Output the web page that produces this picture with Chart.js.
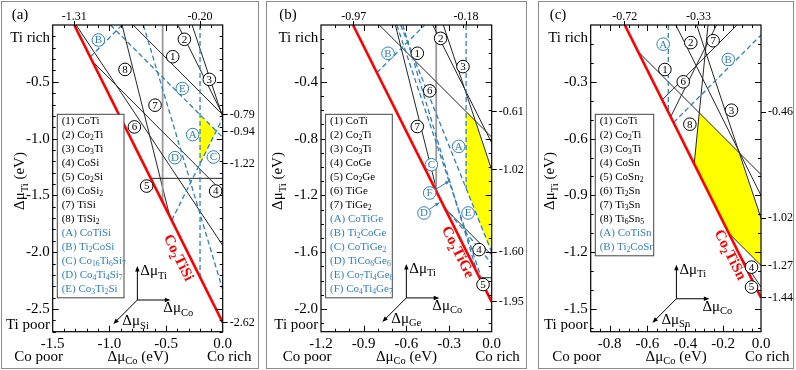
<!DOCTYPE html>
<html>
<head>
<meta charset="utf-8">
<title>Co2TiX chemical potential stability</title>
<script src="https://cdn.jsdelivr.net/npm/chart.js@4.4.1/dist/chart.umd.min.js"></script>
<style>
  body { margin: 0; background: #fff; }
  #wrap { position: relative; width: 796px; height: 370px; overflow: hidden; }
  #wrap canvas { position: absolute; top: 0; }
  .frame { position: absolute; top: 1px; height: 368px; border: 1.5px solid #8c8c8c; box-sizing: border-box; }
</style>
</head>
<body>
<div id="wrap">
  <div class="frame" style="left:1px;width:258px"></div>
  <div class="frame" style="left:266px;width:261px"></div>
  <div class="frame" style="left:538px;width:256px"></div>
  <canvas id="pa" width="264" height="370" style="left:0px"></canvas>
  <canvas id="pb" width="270" height="370" style="left:264px"></canvas>
  <canvas id="pc" width="262" height="370" style="left:534px"></canvas>
</div>
<script>
const SERIF = '"Liberation Serif", "Times New Roman", serif';
const BLUE = "#2f7fbf";
const INK = "#000";

// ─── Panel (a): Co–Ti–Si ──────────────────────────────────────────
const aXTicks = [-1.5, -1.0, -0.5, 0.0];
const aYTicks = [-0.5, -1.0, -1.5, -2.0, -2.5];
const aTopMarks = [-1.31, -0.20];
const aRightMarks = [-0.79, -0.94, -1.22, -2.62];
const aHost = [[-1.31, 0], [0, -2.62]];                       // Co2TiSi
const aStable = [[-0.20, -0.79], [-0.06, -0.94], [-0.20, -1.22]];
// label, x1, y1, x2, y2
const aBinary = [
  ["1", -0.79, 0, 0, -0.79],
  ["2", -0.395, 0, 0, -0.79],
  ["3", -0.27, 0, 0, -0.81],
  ["4", -1.15, -0.32, 0, -1.47],
  ["5", -0.635, -1.35, 0, -1.35],
  ["6", -1.293, 0, 0, -1.94],
  ["7", -0.53, 0, -0.53, -1.56],
  ["8", -0.888, 0, -0.466, -1.688],
];
const aTernary = [
  ["A", -0.20, 0, -0.20, -2.22],
  ["B", -1.169, -0.281, -0.888, 0],
  ["C", -0.45, -1.72, 0, -0.82],
  ["D", -0.70, 0, 0, -2.33],
  ["E", -0.99, 0, 0, -0.99],
];
const aTags = [
  ["1", -0.441, -0.279], ["2", -0.338, -0.126], ["3", -0.118, -0.479], ["4", -0.062, -1.462],
  ["5", -0.671, -1.418], ["6", -0.779, -0.897], ["7", -0.597, -0.706], ["8", -0.862, -0.391],
  ["A", -0.265, -0.965], ["B", -1.097, -0.132], ["C", -0.082, -1.162], ["D", -0.421, -1.168],
  ["E", -0.356, -0.559],
];
const aLegend = ["(1) CoTi", "(2) Co_2Ti", "(3) Co_3Ti", "(4) CoSi", "(5) Co_2Si", "(6) CoSi_2",
  "(7) TiSi", "(8) TiSi_2", "(A) CoTiSi", "(B) Ti_2CoSi", "(C) Co_{16}Ti_6Si_7",
  "(D) Co_4Ti_4Si_7", "(E) Co_3Ti_2Si"];

// ─── Panel (b): Co–Ti–Ge ──────────────────────────────────────────
const bXTicks = [-1.2, -0.9, -0.6, -0.3, 0.0];
const bYTicks = [-0.4, -0.8, -1.2, -1.6, -2.0];
const bTopMarks = [-0.97, -0.18];
const bRightMarks = [-0.61, -1.02, -1.60, -1.95];
const bHost = [[-0.975, 0], [0, -1.95]];                      // Co2TiGe
const bStable = [[-0.18, -0.61], [-0.12, -0.67], [0, -1.02], [0, -1.60], [-0.18, -1.15]];
const bBinary = [
  ["1", -0.79, 0, 0, -0.79],
  ["2", -0.415, 0, 0, -0.83],
  ["3", -0.34, 0, 0, -1.02],
  ["4", -0.33, -1.29, 0, -1.62],
  ["5", -0.085, -1.78, 0, -1.78],
  ["6", -0.39, 0, -0.39, -1.17],
  ["7", -0.677, 0, -0.385, -1.17],
];
const bTernary = [
  ["A", -0.18, 0, -0.18, -1.15],
  ["B", -0.807, -0.336, -0.471, 0],
  ["C", -0.667, 0, -0.05, -1.85],
  ["D", -0.336, -1.278, 0, -1.68],
  ["E", -0.64, 0, 0, -1.60],
  ["F", -0.625, 0, -0.10, -1.75],
];
const bTags = [
  ["1", -0.523, -0.199], ["2", -0.359, -0.094], ["3", -0.202, -0.293], ["4", -0.089, -1.582],
  ["5", -0.061, -1.828], ["6", -0.436, -0.464], ["7", -0.523, -0.715], ["A", -0.232, -0.855],
  ["B", -0.729, -0.199], ["C", -0.424, -0.984], ["D", -0.476, -1.324], ["E", -0.166, -1.324],
  ["F", -0.436, -1.183],
];
const bPointers = [["D", -0.366, -1.249], ["F", -0.295, -1.097]];
const bLegend = ["(1) CoTi", "(2) Co_2Ti", "(3) Co_3Ti", "(4) CoGe", "(5) Co_2Ge", "(6) TiGe",
  "(7) TiGe_2", "(A) CoTiGe", "(B) Ti_2CoGe", "(C) CoTiGe_2", "(D) TiCo_6Ge_6",
  "(E) Co_7Ti_4Ge_6", "(F) Co_4Ti_4Ge_7"];

// ─── Panel (c): Co–Ti–Sn ──────────────────────────────────────────
const cXTicks = [-0.8, -0.6, -0.4, -0.2, 0.0];
const cYTicks = [-0.3, -0.6, -0.9, -1.2, -1.5];
const cTopMarks = [-0.72, -0.33];
const cRightMarks = [-0.46, -1.02, -1.27, -1.44];
const cHost = [[-0.72, 0], [0, -1.44]];                       // Co2TiSn
const cStable = [[-0.326, -0.464], [-0.12, -0.67], [0, -1.02], [0, -1.27], [-0.17, -1.10], [-0.353, -0.734]];
const cBinary = [
  ["1", -0.65, -0.14, 0, -0.79],
  ["2", -0.45, 0, 0, -0.90],
  ["3", -0.34, 0, 0, -1.02],
  ["4", -0.17, -1.10, 0, -1.27],
  ["5", -0.112, -1.216, 0, -1.384],
  ["6", -0.4775, -0.485, -0.235, 0],
  ["7", -0.522, -0.396, -0.127, 0],
  ["8", -0.353, -0.733, -0.28, 0],
];
const cTernary = [
  ["A", -0.49, 0, -0.49, -0.46],
  ["B", -0.462, -0.515, 0, -0.053],
];
const cTags = [
  ["1", -0.508, -0.235], ["2", -0.371, -0.093], ["3", -0.156, -0.450], ["4", -0.050, -1.279],
  ["5", -0.050, -1.384], ["6", -0.411, -0.300], ["7", -0.253, -0.083], ["8", -0.376, -0.524],
  ["A", -0.517, -0.101], ["B", -0.173, -0.182],
];
const cLegend = ["(1) CoTi", "(2) Co_2Ti", "(3) Co_3Ti", "(4) CoSn", "(5) CoSn_2", "(6) Ti_2Sn",
  "(7) Ti_3Sn", "(8) Ti_6Sn_5", "(A) CoTiSn", "(B) Ti_2CoSn"];

// ─── Layout (page pixels) ─────────────────────────────────────────
const PLOT_TOP = 25;
const PLOT_BOTTOM = 331.7;

const panels = [
  { canvas: "pa", left: 0, width: 264, area: [52.7, 222.7], xMin: -1.5, yMin: -2.7,
    xMajor: 0.5, xMinor: 0.1, yMajor: 0.5, yMinor: 0.1,
    xTicks: aXTicks, yTicks: aYTicks, topMarks: aTopMarks, rightMarks: aRightMarks,
    host: aHost, stable: aStable, binary: aBinary, ternary: aTernary, tags: aTags, pointers: [],
    legend: aLegend, nBinary: 8, legendW: 66.7, grey: "7",
    hostName: "Co_2TiSi", hostAt: [-0.394, -2.05], triadAt: [-0.753, -2.421], third: "Si",
    letter: "(a)", letterX: 20, titleX: 20 },
  { canvas: "pb", left: 264, width: 270, area: [321, 491.7], xMin: -1.2, yMin: -2.16,
    xMajor: 0.3, xMinor: 0.1, yMajor: 0.4, yMinor: 0.1,
    xTicks: bXTicks, yTicks: bYTicks, topMarks: bTopMarks, rightMarks: bRightMarks,
    host: bHost, stable: bStable, binary: bBinary, ternary: bTernary, tags: bTags, pointers: bPointers,
    legend: bLegend, nBinary: 7, legendW: 66.7, grey: "6",
    hostName: "Co_2TiGe", hostAt: [-0.24, -1.60], triadAt: [-0.60, -1.922], third: "Ge",
    letter: "(b)", letterX: 288, titleX: 278.3 },
  { canvas: "pc", left: 534, width: 262, area: [590.7, 761], xMin: -0.9, yMin: -1.62,
    xMajor: 0.2, xMinor: 0.05, yMajor: 0.3, yMinor: 0.1,
    xTicks: cXTicks, yTicks: cYTicks, topMarks: cTopMarks, rightMarks: cRightMarks,
    host: cHost, stable: cStable, binary: cBinary, ternary: cTernary, tags: cTags, pointers: [],
    legend: cLegend, nBinary: 8, legendW: 58.4, grey: null,
    hostName: "Co_2TiSn", hostAt: [-0.165, -1.215], triadAt: [-0.447, -1.446], third: "Sn",
    letter: "(c)", letterX: 558, titleX: 550 },
];

// ─── Drawing helpers ──────────────────────────────────────────────

/** Draws text where "_x" or "_{xy}" become subscripts. */
function richText(ctx, str, x, y, size, align, color, weight = "normal") {
  const parts = [];
  for (const m of str.matchAll(/_\{([^}]*)\}|_(.)|([^_]+)/g)) {
    if (m[3] !== undefined) parts.push([m[3], false]);
    else parts.push([m[1] !== undefined ? m[1] : m[2], true]);
  }
  const font = (sub) => `${weight} ${sub ? size * 0.7 : size}px ${SERIF}`;
  let w = 0;
  parts.forEach(([t, sub]) => { ctx.font = font(sub); w += ctx.measureText(t).width; });
  let cx = align === "center" ? x - w / 2 : align === "right" ? x - w : x;
  ctx.textAlign = "left";
  ctx.textBaseline = "middle";
  ctx.fillStyle = color;
  parts.forEach(([t, sub]) => {
    ctx.font = font(sub);
    ctx.fillText(t, cx, sub ? y + size * 0.32 : y);
    cx += ctx.measureText(t).width;
  });
}

function arrow(ctx, x1, y1, x2, y2, color, head = 6) {
  const a = Math.atan2(y2 - y1, x2 - x1);
  ctx.strokeStyle = color;
  ctx.fillStyle = color;
  ctx.lineWidth = 1;
  ctx.beginPath();
  ctx.moveTo(x1, y1);
  ctx.lineTo(x2 - Math.cos(a) * head * 0.8, y2 - Math.sin(a) * head * 0.8);
  ctx.stroke();
  ctx.beginPath();
  ctx.moveTo(x2, y2);
  ctx.lineTo(x2 - head * Math.cos(a - 0.38), y2 - head * Math.sin(a - 0.38));
  ctx.lineTo(x2 - head * Math.cos(a + 0.38), y2 - head * Math.sin(a + 0.38));
  ctx.closePath();
  ctx.fill();
}

function isMajor(v, step) {
  const r = v / step;
  return Math.abs(r - Math.round(r)) < 1e-6;
}

function tag(ctx, x, y, text, color) {
  ctx.beginPath();
  ctx.arc(x, y, 6.3, 0, Math.PI * 2);
  ctx.fillStyle = "#fff";
  ctx.fill();
  ctx.strokeStyle = color;
  ctx.lineWidth = 1;
  ctx.stroke();
  ctx.fillStyle = color;
  ctx.font = `11px ${SERIF}`;
  ctx.textAlign = "center";
  ctx.textBaseline = "middle";
  ctx.fillText(text, x, y + 0.5);
}

// ─── Per-panel plugin: ticks, tags, legend, labels ────────────────

function makeDecor(p) {
  return {
    id: "decor",
    afterDatasetsDraw(chart) {
      const ctx = chart.ctx;
      const X = (v) => chart.scales.x.getPixelForValue(v);
      const Y = (v) => chart.scales.y.getPixelForValue(v);
      const { left, right, top, bottom } = chart.chartArea;
      ctx.save();

      // inward ticks on all four sides
      ctx.strokeStyle = INK;
      ctx.lineWidth = 1;
      ctx.beginPath();
      const nx = Math.round(-p.xMin / p.xMinor);
      for (let i = 1; i < nx; i++) {
        const v = p.xMin + i * p.xMinor;
        const len = isMajor(v, p.xMajor) ? 6 : 3;
        const px = Math.round(X(v)) + 0.5;
        ctx.moveTo(px, bottom); ctx.lineTo(px, bottom - len);
        ctx.moveTo(px, top); ctx.lineTo(px, top + len);
      }
      const ny = Math.floor(-p.yMin / p.yMinor + 1e-6);
      for (let i = 1; i <= ny; i++) {
        const v = -i * p.yMinor;
        const len = isMajor(v, p.yMajor) ? 6 : 3;
        const py = Math.round(Y(v)) + 0.5;
        ctx.moveTo(left, py); ctx.lineTo(left + len, py);
        ctx.moveTo(right, py); ctx.lineTo(right - len, py);
      }
      ctx.stroke();
      ctx.lineWidth = 1.2;
      ctx.strokeRect(left, top, right - left, bottom - top);

      // host compound label along the red line
      const ang = Math.atan2(Y(p.host[1][1]) - Y(p.host[0][1]), X(p.host[1][0]) - X(p.host[0][0]));
      ctx.save();
      ctx.translate(X(p.hostAt[0]), Y(p.hostAt[1]));
      ctx.rotate(ang);
      richText(ctx, p.hostName, 0, 0, 15, "center", "#ff0000", "bold");
      ctx.restore();

      // legend box
      const bx = left + 4.6, by = 114.3;
      ctx.fillStyle = "#fff";
      ctx.fillRect(bx, by, p.legendW, p.legend.length * 14 + 1.5);
      ctx.strokeStyle = "#444";
      ctx.lineWidth = 1;
      ctx.strokeRect(bx, by, p.legendW, p.legend.length * 14 + 1.5);
      p.legend.forEach((s, i) => {
        richText(ctx, s, bx + 4.4, by + 6.5 + i * 14, 11, "left", i < p.nBinary ? INK : BLUE);
      });

      // pointers from tags to lines
      p.pointers.forEach(([name, tx, ty]) => {
        const t = p.tags.find((g) => g[0] === name);
        const x0 = X(t[1]), y0 = Y(t[2]), x1 = X(tx), y1 = Y(ty);
        const a = Math.atan2(y1 - y0, x1 - x0);
        arrow(ctx, x0 + 6.3 * Math.cos(a), y0 + 6.3 * Math.sin(a), x1, y1, BLUE, 5);
      });

      // circled tags
      p.tags.forEach(([name, tx, ty]) => {
        tag(ctx, X(tx), Y(ty), name, /\d/.test(name) ? INK : BLUE);
      });

      // axis triad
      const ox = X(p.triadAt[0]), oy = Y(p.triadAt[1]);
      arrow(ctx, ox, oy, ox, oy - 34, INK);
      arrow(ctx, ox, oy, ox + 33, oy, INK);
      arrow(ctx, ox, oy, ox - 24, oy + 24, INK);
      richText(ctx, "Δμ_{Ti}", ox + 3, oy - 29, 15, "left", INK);
      richText(ctx, "Δμ_{Co}", ox + 26, oy + 8, 15, "left", INK);
      richText(ctx, "Δμ_{" + p.third + "}", ox - 15, oy + 21, 15, "left", INK);
      ctx.restore();
    },
    afterDraw(chart) {
      const ctx = chart.ctx;
      const { left } = chart.chartArea;
      ctx.save();
      richText(ctx, "Ti rich", left - 2.7, 37.7, 15, "right", INK);
      richText(ctx, "Ti poor", left - 2.7, 325.5, 15, "right", INK);
      richText(ctx, "Co poor", left - 14, 356.7, 15, "center", INK);
      richText(ctx, "Δμ_{Co} (eV)", left + 85.5, 356.7, 15, "center", INK);
      richText(ctx, "Co rich", left + 176.5, 356.7, 15, "center", INK);
      richText(ctx, p.letter, p.letterX - p.left, 15, 15, "center", INK);
      ctx.translate(p.titleX - p.left, 181);
      ctx.rotate(-Math.PI / 2);
      richText(ctx, "Δμ_{Ti} (eV)", 0, 0, 15, "center", INK);
      ctx.restore();
    },
  };
}

// ─── Chart setup ──────────────────────────────────────────────────

const toPts = (pairs) => pairs.map(([x, y]) => ({ x, y }));
const axisFont = { family: SERIF, size: 15 };
const markFont = { family: SERIF, size: 12 };

function buildChart(p) {
  const datasets = [];
  datasets.push({ data: toPts([...p.stable, p.stable[0]]), fill: "shape", backgroundColor: "#ffff00", borderWidth: 0, order: 9 });
  p.binary.forEach(([name, x1, y1, x2, y2]) => {
    datasets.push({
      data: [{ x: x1, y: y1 }, { x: x2, y: y2 }],
      borderColor: name === p.grey ? "#9a9a9a" : "#262626",
      borderWidth: name === p.grey ? 1.8 : 1,
      order: 3,
    });
  });
  p.ternary.forEach(([, x1, y1, x2, y2]) => {
    datasets.push({
      data: [{ x: x1, y: y1 }, { x: x2, y: y2 }],
      borderColor: BLUE, borderWidth: 1.3, borderDash: [5, 3], order: 2,
    });
  });
  datasets.push({ data: toPts(p.host), borderColor: "#ff0000", borderWidth: 2.6, order: 0 });

  const fixedTicks = (vals) => (s) => { s.ticks = vals.map((value) => ({ value })); };
  const plotRight = p.area[1] - p.left;

  new Chart(document.getElementById(p.canvas), {
    type: "line",
    data: { datasets },
    options: {
      responsive: false,
      animation: false,
      devicePixelRatio: 1,
      events: [],
      layout: { padding: 0 },
      elements: { point: { radius: 0 }, line: { tension: 0 } },
      plugins: { legend: { display: false }, tooltip: { enabled: false } },
      scales: {
        x: {
          type: "linear", position: "bottom", min: p.xMin, max: 0, bounds: "data",
          afterBuildTicks: fixedTicks(p.xTicks),
          afterFit: (s) => { s.height = 370 - PLOT_BOTTOM; },
          grid: { display: false, drawTicks: false }, border: { display: false },
          ticks: { font: axisFont, color: INK, padding: 3, autoSkip: false, maxRotation: 0, callback: (v) => v.toFixed(1) },
        },
        x2: {
          type: "linear", position: "top", min: p.xMin, max: 0, bounds: "data",
          afterBuildTicks: fixedTicks(p.topMarks),
          afterFit: (s) => { s.height = PLOT_TOP; },
          grid: { drawOnChartArea: false, drawTicks: true, tickLength: 4, color: INK, lineWidth: 1 },
          border: { display: false },
          ticks: { font: markFont, color: INK, padding: -3, autoSkip: false, maxRotation: 0, callback: (v) => v.toFixed(2) },
        },
        y: {
          type: "linear", position: "left", min: p.yMin, max: 0, bounds: "data",
          afterBuildTicks: fixedTicks(p.yTicks),
          afterFit: (s) => { s.width = p.area[0] - p.left; },
          grid: { display: false, drawTicks: false }, border: { display: false },
          ticks: { font: axisFont, color: INK, padding: 3, autoSkip: false, callback: (v) => v.toFixed(1) },
        },
        y2: {
          type: "linear", position: "right", min: p.yMin, max: 0, bounds: "data",
          afterBuildTicks: fixedTicks(p.rightMarks),
          afterFit: (s) => { s.width = p.width - plotRight; },
          grid: { drawOnChartArea: false, drawTicks: true, tickLength: 5, color: INK, lineWidth: 1 },
          border: { display: false },
          ticks: { font: markFont, color: INK, padding: 2, autoSkip: false, callback: (v) => v.toFixed(2) },
        },
      },
    },
    plugins: [makeDecor(p)],
  });
}

panels.forEach(buildChart);
</script>
</body>
</html>
